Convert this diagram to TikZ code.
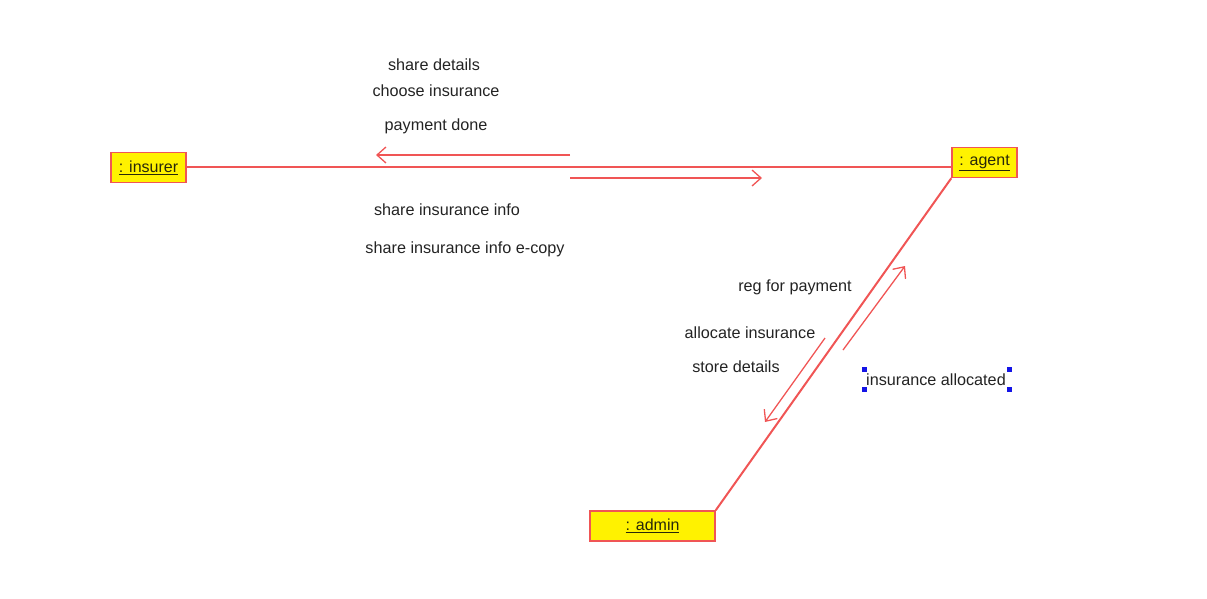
\documentclass[tikz,border=0pt]{standalone}
\usepackage{fontspec}
\setmainfont{Liberation Sans}
\usetikzlibrary{arrows.meta}
\definecolor{lred}{RGB}{240,85,85}
\definecolor{txt}{RGB}{35,35,35}
\definecolor{btxt}{RGB}{40,40,10}
\definecolor{hblue}{RGB}{20,20,230}
\begin{document}
\begin{tikzpicture}[x=1pt,y=-1pt,
  obj/.style={draw=lred,line width=1.5pt,fill=yellow,inner sep=0pt,minimum height=30pt,font=\fontsize{16}{18}\selectfont,text=btxt},
  link/.style={draw=lred,line width=2pt},
  msg/.style={draw=lred,line width=1.3pt,-{Straight Barb[length=9pt,width=16pt,line width=1.3pt]}},
  lbl/.style={font=\fontsize{16.2}{18}\selectfont,text=txt,inner sep=0pt},
  handle/.style={fill=hblue,draw=none,minimum size=5pt,inner sep=0pt}]
\useasboundingbox (0,0) rectangle (1207,598);
\node[obj,minimum width=75pt] (insurer) at (148.5,167.5) {\underline{: insurer}};
\node[obj,minimum width=65pt] (agent) at (984.5,162.5) {\underline{: agent}};
\node[obj,minimum width=125pt] (admin) at (652.5,526) {\underline{: admin}};
\coordinate (ins) at ([yshift=1pt]insurer.east);
\draw[link] (ins) -- (ins -| agent.west);
\draw[link] (agent.south west) -- (admin.north east);
% messages
\coordinate (a1s) at (570,155); \coordinate (a1e) at (376,155);
\coordinate (a2s) at (570,178); \coordinate (a2e) at (762,178);
\coordinate (a3s) at (825,338); \coordinate (a3e) at (765,422);
\coordinate (a4s) at (843,350); \coordinate (a4e) at (905,266);
\draw[msg] (a1s) -- (a1e);
\draw[msg] (a2s) -- (a2e);
\draw[msg] (a3s) -- (a3e);
\draw[msg] (a4s) -- (a4e);
% labels
\node[lbl] (l1) at (434,65) {share details};
\node[lbl] (l2) at (436,91) {choose insurance};
\node[lbl] (l3) at (436,126) {payment done};
\node[lbl] (l4) at (447,210) {share insurance info};
\node[lbl] (l5) at (465,249) {share insurance info e-copy};
\node[lbl] (l6) at (795,287) {reg for payment};
\node[lbl] (l7) at (750,333) {allocate insurance};
\node[lbl] (l8) at (736,367) {store details};
\node[lbl] (l9) at (936,380) {insurance allocated};
\node[handle] (h1) at (864,369) {};
\node[handle] (h2) at (864,389) {};
\node[handle] (h3) at (1009,369) {};
\node[handle] (h4) at (1009,389) {};
\end{tikzpicture}
\end{document}
